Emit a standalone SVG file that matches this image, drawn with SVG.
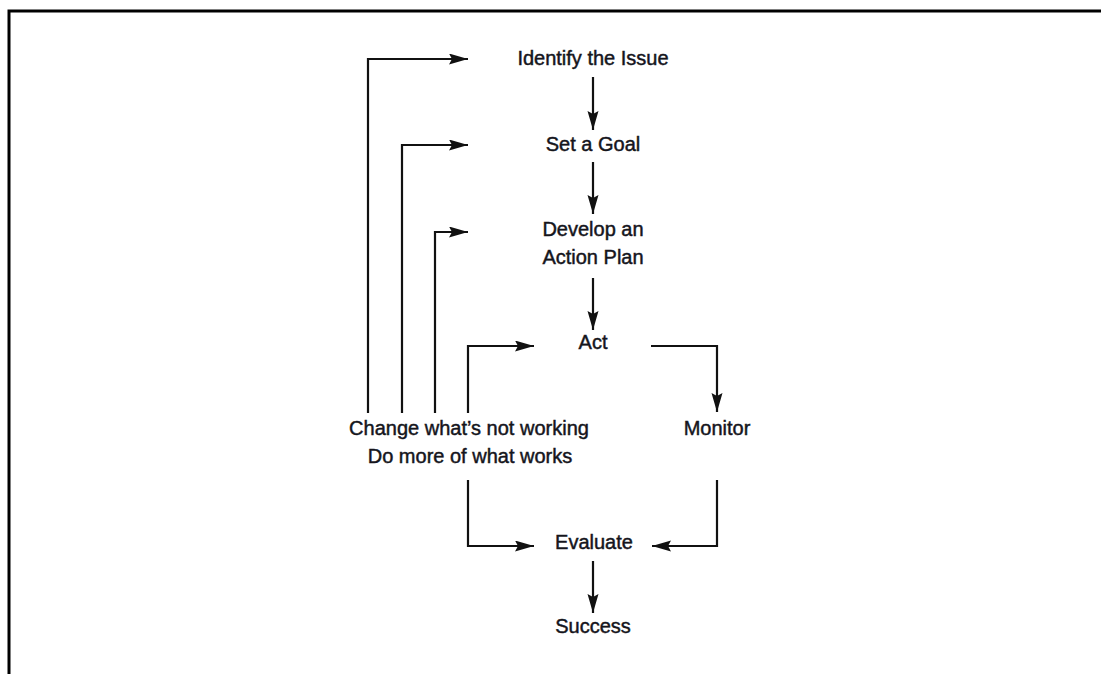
<svg xmlns="http://www.w3.org/2000/svg" width="1101" height="674" viewBox="0 0 1101 674">
<style>
.t{font-family:"Liberation Sans",Arial,sans-serif;font-size:20px;fill:#15151c;stroke:#15151c;stroke-width:0.45;text-anchor:middle}
.c{fill:none;stroke:#111;stroke-width:2.2}
</style>
<defs>
<marker id="ah" markerUnits="userSpaceOnUse" markerWidth="20" markerHeight="12" refX="19" refY="5.5" orient="auto">
<path d="M0,0 L19,5.5 L0,11 L3,5.5 z" fill="#111"/>
</marker>
</defs>
<rect width="1101" height="674" fill="#fff"/>
<path d="M9,674 V11 H1101" fill="none" stroke="#000" stroke-width="3"/>
<g id="n-identify"><text class="t" x="593" y="65">Identify the Issue</text></g>
<g id="n-goal"><text class="t" x="593" y="151">Set a Goal</text></g>
<g id="n-plan"><text class="t" x="593" y="236">Develop an</text><text class="t" x="593" y="264">Action Plan</text></g>
<g id="n-act"><text class="t" x="593" y="349">Act</text></g>
<g id="n-monitor"><text class="t" x="717" y="435">Monitor</text></g>
<g id="n-change"><text class="t" x="469" y="435">Change what’s not working</text><text class="t" x="470" y="463">Do more of what works</text></g>
<g id="n-evaluate"><text class="t" x="594" y="549">Evaluate</text></g>
<g id="n-success"><text class="t" x="593" y="633">Success</text></g>
<g id="connectors">
<path class="c" d="M593,77 V130" marker-end="url(#ah)"/>
<path class="c" d="M593,162 V214" marker-end="url(#ah)"/>
<path class="c" d="M593,278 V330" marker-end="url(#ah)"/>
<path class="c" d="M593,561 V613" marker-end="url(#ah)"/>
<path class="c" d="M651,346 H717 V412" marker-end="url(#ah)"/>
<path class="c" d="M717,480 V546 H652" marker-end="url(#ah)"/>
<path class="c" d="M468,480 V546 H534" marker-end="url(#ah)"/>
<path class="c" d="M368,413 V59 H468" marker-end="url(#ah)"/>
<path class="c" d="M402,413 V145 H468" marker-end="url(#ah)"/>
<path class="c" d="M435,413 V232 H468" marker-end="url(#ah)"/>
<path class="c" d="M468,413 V346 H534" marker-end="url(#ah)"/>
</g>
</svg>
